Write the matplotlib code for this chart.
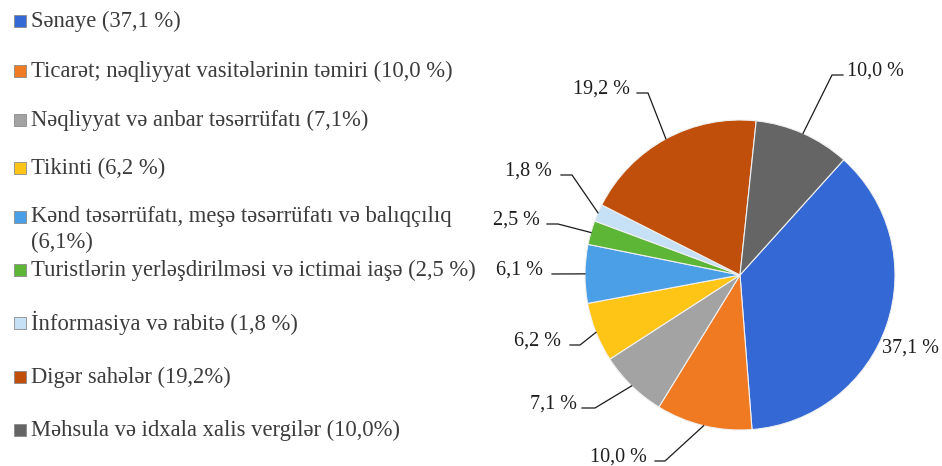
import numpy as np
import matplotlib
matplotlib.use('Agg')
import matplotlib.pyplot as plt
from matplotlib.patches import Rectangle

plt.rcParams['font.family'] = ['Liberation Serif', 'DejaVu Serif']

# Data
legend_labels = [
    'Sənaye (37,1 %)',
    'Ticarət; nəqliyyat vasitələrinin təmiri (10,0 %)',
    'Nəqliyyat və anbar təsərrüfatı (7,1%)',
    'Tikinti (6,2 %)',
    'Kənd təsərrüfatı, meşə təsərrüfatı və balıqçılıq\n(6,1%)',
    'Turistlərin yerləşdirilməsi və ictimai iaşə (2,5 %)',
    'İnformasiya və rabitə (1,8 %)',
    'Digər sahələr (19,2%)',
    'Məhsula və idxala xalis vergilər (10,0%)',
]
shares = [37.1, 10.0, 7.1, 6.2, 6.1, 2.5, 1.8, 19.2, 10.0]
colors = ['#3468d4', '#f07a22', '#a3a3a3', '#ffc516', '#4a9fe6',
          '#5db636', '#c6e0f5', '#c04f0b', '#656565']

# layout (pixels) for legend rows and pie labels
W, H = 942, 466
legend_y = [21, 71, 120, 168, 230, 270, 323, 377, 430]
cx, cy, R = 740, 275, 155
# (elbow_x, elbow_y, hend_x, text_x, ha) in pixels; None = no leader
label_pos = [
    None,
    (665, 461, 655, 647, 'right'),
    (595, 408, 582, 577, 'right'),
    (580, 345, 570, 561, 'right'),
    (552, 274, 552, 543, 'right'),
    (558, 224, 547, 540, 'right'),
    (572, 175, 561, 552, 'right'),
    (648, 93, 637, 630, 'right'),
    (832, 75, 843, 847, 'left'),
]

fig = plt.figure(figsize=(W / 100, H / 100), dpi=100)

# Legend drawn by hand
for lab, col, y in zip(legend_labels, colors, legend_y):
    yf = 1 - y / H
    fig.text(31 / W, yf, lab, fontsize=16.3, va='center', ha='left',
             color='#3c3c3c', linespacing=1.3)
    if '\n' in lab:
        ym = 1 - (y - 13) / H
    else:
        ym = yf
    fig.patches.append(Rectangle((14 / W, ym - 6 / H), 12 / W, 12 / H,
                                 transform=fig.transFigure, facecolor=col,
                                 edgecolor='#8a8a8a', linewidth=0.6))

# Pie
ax = fig.add_axes([(cx - R) / W, (H - cy - R) / H, 2 * R / W, 2 * R / H])
wedges, _ = ax.pie(shares, colors=colors, startangle=48, counterclock=False,
                   radius=1.0, wedgeprops=dict(edgecolor='#f0f0f0', linewidth=0.8))
ax.set_xlim(-1, 1)
ax.set_ylim(-1, 1)
ax.set_aspect('equal')
ax.axis('off')


def px(x, y):
    return (x - cx) / R, (cy - y) / R


for w, v, pos in zip(wedges, shares, label_pos):
    txt = '{:.1f} %'.format(v).replace('.', ',')
    ang = np.deg2rad((w.theta1 + w.theta2) / 2)
    sx, sy = np.cos(ang), np.sin(ang)
    if pos is None:
        tx, ty = px(882, 348)
        ax.text(tx, ty, txt, fontsize=14.5, ha='left', va='center',
                color='#1e1e1e', clip_on=False)
        continue
    ex, ey, hx, tx_, ha = pos
    exd, eyd = px(ex, ey)
    hxd, _ = px(hx, ey)
    ax.plot([sx, exd, hxd], [sy, eyd, eyd], color='#1a1a1a', lw=0.9,
            clip_on=False)
    txd, tyd = px(tx_, ey + 1)
    ax.text(txd, tyd, txt, fontsize=14.5, ha=ha, va='baseline',
            color='#1e1e1e', clip_on=False)

fig.savefig('out.png', dpi=100, facecolor='white')
